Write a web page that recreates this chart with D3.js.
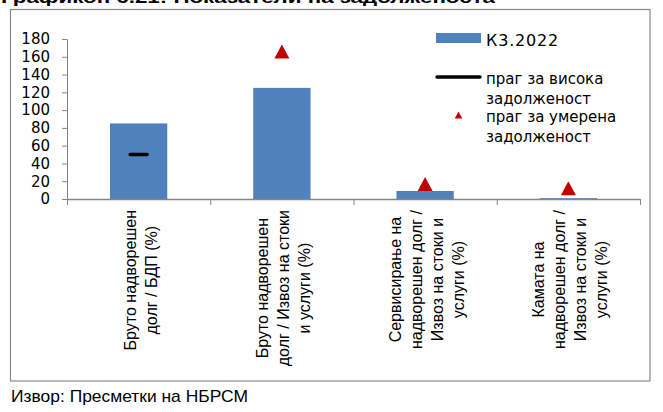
<!DOCTYPE html>
<html>
<head>
<meta charset="utf-8">
<script src="https://cdn.jsdelivr.net/npm/d3@7/dist/d3.min.js"></script>
<style>
  html, body { margin: 0; padding: 0; background: #fff; }
  svg { display: block; }
</style>
</head>
<body>
<svg id="chart" width="663" height="412"></svg>
<script>
// Indicator categories (multi-line axis labels)
const categories = [
  ["Бруто надворешен", "долг / БДП (%)"],
  ["Бруто надворешен", "долг / Извоз на стоки", "и услуги (%)"],
  ["Сервисирање на", "надворешен долг /", "Извоз на стоки и", "услуги (%)"],
  ["Камата на", "надворешен долг /", "Извоз на стоки и", "услуги (%)"]
];
// Q3 2022 values
const valuesQ3 = [85, 125, 9, 1];
// High indebtedness threshold (only defined for the first indicator)
const highThreshold = [50, null, null, null];
// Moderate indebtedness threshold
const moderateThreshold = [null, 166, 17, 12];
// Y axis ticks
const yTicks = [0, 20, 40, 60, 80, 100, 120, 140, 160, 180];

const seriesNames = ["К3.2022", ["праг за висока", "задолженост"], ["праг за умерена", "задолженост"]];
const titleText = "Графикон 6.21: Показатели на задолженоста";
const sourceText = "Извор: Пресметки на НБРСМ";

const BLUE = "#4F81BD", RED = "#C00000", AXIS = "#868686";

const svg = d3.select("#chart");

// Title (partially clipped at the top edge)
svg.append("text")
  .attr("x", 1).attr("y", 3)
  .attr("font-family", "Liberation Sans, Arial, sans-serif")
  .attr("font-weight", "bold")
  .attr("font-size", 17)
  .attr("textLength", 494).attr("lengthAdjust", "spacingAndGlyphs")
  .text(titleText);

// Chart frame
svg.append("rect")
  .attr("x", 10.5).attr("y", 9.5)
  .attr("width", 639.5).attr("height", 371.5)
  .attr("fill", "#fff").attr("stroke", "#8a8a8a").attr("stroke-width", 1.2);

// Scales
const plotL = 67, plotR = 640, plotT = 39, plotB = 199;
const y = d3.scaleLinear().domain([0, 180]).range([plotB, plotT]);
const x = d3.scaleBand().domain(d3.range(categories.length)).range([plotL, plotR]).padding(0);
const xEdges = d3.scaleLinear().domain([0, categories.length]).range([plotL, plotR]);
const barW = x.bandwidth() * 0.4;
const cx = i => x(i) + x.bandwidth() / 2;

// Y axis
const yAxis = svg.append("g")
  .attr("transform", `translate(${plotL},0)`)
  .call(d3.axisLeft(y).tickValues(yTicks).tickSize(5).tickSizeOuter(5).tickPadding(12));
yAxis.select(".domain").attr("stroke", AXIS);
yAxis.selectAll(".tick line").attr("stroke", AXIS);
yAxis.selectAll(".tick text")
  .attr("font-family", "DejaVu Sans, Verdana, sans-serif")
  .attr("font-size", 15).attr("fill", "#000");

// Bars
svg.append("g").selectAll("rect")
  .data(valuesQ3)
  .join("rect")
  .attr("x", (d, i) => cx(i) - barW / 2)
  .attr("y", d => y(d))
  .attr("width", barW)
  .attr("height", d => y(0) - y(d))
  .attr("fill", BLUE);

// X axis (category boundaries)
const xAxis = svg.append("g")
  .attr("transform", `translate(0,${plotB})`)
  .call(d3.axisBottom(xEdges).tickValues(d3.range(categories.length + 1))
    .tickSize(6).tickSizeOuter(0).tickFormat(""));
xAxis.select(".domain").attr("stroke", AXIS).attr("stroke-width", 1.3);
xAxis.selectAll(".tick line").attr("stroke", AXIS);

// High threshold markers (short black dash)
svg.append("g").selectAll("line")
  .data(highThreshold.map((v, i) => ({ v, i })).filter(d => d.v != null))
  .join("line")
  .attr("x1", d => cx(d.i) - 8.5).attr("x2", d => cx(d.i) + 8.5)
  .attr("y1", d => y(d.v)).attr("y2", d => y(d.v))
  .attr("stroke", "#000").attr("stroke-width", 3.4).attr("stroke-linecap", "round");

// Triangle path centred on its bounding box
const tri = (w, h) => `M0,${-h / 2}L${w / 2},${h / 2}L${-w / 2},${h / 2}Z`;

// Moderate threshold markers (red triangles)
svg.append("g").selectAll("path")
  .data(moderateThreshold.map((v, i) => ({ v, i })).filter(d => d.v != null))
  .join("path")
  .attr("d", tri(15, 14))
  .attr("transform", d => `translate(${cx(d.i)},${y(d.v)})`)
  .attr("fill", RED);

// Category labels, rotated, lines centred within block
const labelFont = "Liberation Sans, Arial, sans-serif";
const labelSize = 16, lineGap = 21, labelTop = 210;
categories.forEach((lines, i) => {
  const g = svg.append("g")
    .attr("transform", `translate(${cx(i) + 2},0) rotate(-90)`);
  const n = lines.length;
  const texts = g.selectAll("text").data(lines).join("text")
    .attr("font-family", labelFont)
    .attr("font-size", labelSize)
    .attr("text-anchor", "middle")
    .attr("dominant-baseline", "central")
    .attr("y", (d, k) => (k - (n - 1) / 2) * lineGap)
    .text(d => d);
  let maxLen = 0;
  texts.each(function () { maxLen = Math.max(maxLen, this.getComputedTextLength()); });
  texts.attr("x", -(labelTop + maxLen / 2));
});

// Legend
const legX = 436, legW = 45, legTextX = 486;
const legendFont = "DejaVu Sans, Verdana, sans-serif";
const leg = svg.append("g");
leg.append("rect").attr("x", legX).attr("y", 33).attr("width", legW).attr("height", 10).attr("fill", BLUE);
leg.append("text").attr("x", legTextX).attr("y", 45.5)
  .attr("font-family", legendFont).attr("font-size", 16).attr("letter-spacing", 0.8)
  .text(seriesNames[0]);
leg.append("line").attr("x1", legX + 1).attr("x2", legX + legW - 1).attr("y1", 77).attr("y2", 77)
  .attr("stroke", "#000").attr("stroke-width", 3.4).attr("stroke-linecap", "round");
leg.append("path").attr("d", tri(7.5, 7)).attr("transform", `translate(${legX + legW / 2},115)`).attr("fill", RED);
const legLines = [
  { t: seriesNames[1][0], yb: 83.5 },
  { t: seriesNames[1][1], yb: 103.5 },
  { t: seriesNames[2][0], yb: 121.5 },
  { t: seriesNames[2][1], yb: 141.5 }
];
leg.selectAll("text.l").data(legLines).join("text").attr("class", "l")
  .attr("x", legTextX).attr("y", d => d.yb)
  .attr("font-family", legendFont).attr("font-size", 15)
  .text(d => d.t);

// Source note
svg.append("text")
  .attr("x", 11).attr("y", 401.5)
  .attr("font-family", "Liberation Sans, Arial, sans-serif")
  .attr("font-size", 17)
  .attr("textLength", 237).attr("lengthAdjust", "spacingAndGlyphs")
  .text(sourceText);
</script>
</body>
</html>
